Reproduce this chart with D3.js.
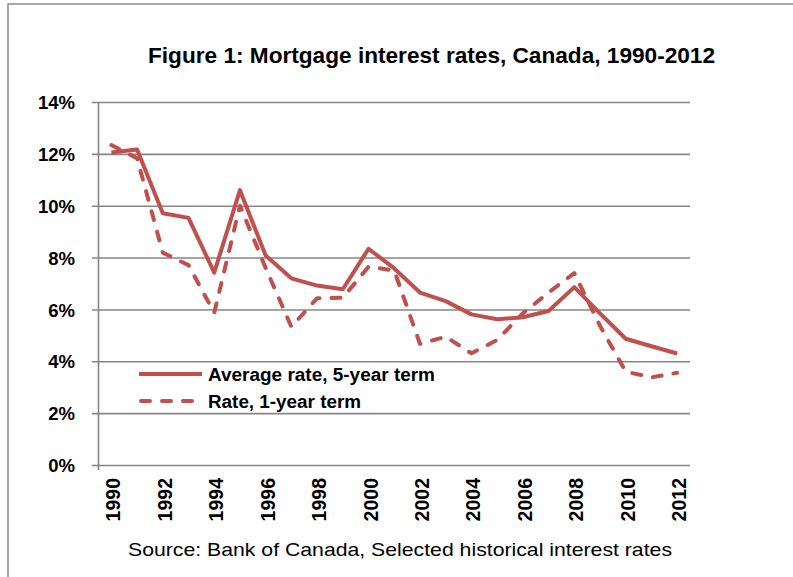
<!DOCTYPE html>
<html><head><meta charset="utf-8">
<script src="https://cdn.jsdelivr.net/npm/d3@7"></script>
<style>html,body{margin:0;padding:0;background:#fff;}svg{display:block;}</style>
</head><body>
<svg id="chart" width="793" height="577"></svg>
<script>
const years = ["1990","1991","1992","1993","1994","1995","1996","1997","1998","1999","2000","2001","2002","2003","2004","2005","2006","2007","2008","2009","2010","2011","2012"];
const yearLabels = ["1990","1992","1994","1996","1998","2000","2002","2004","2006","2008","2010","2012"];
const fiveYear = [12.05,12.17,9.71,9.53,7.42,10.6,8.08,7.2,6.92,6.78,8.34,7.58,6.65,6.32,5.81,5.62,5.70,5.94,6.86,5.85,4.87,4.58,4.30];
const oneYear = [12.34,11.83,8.19,7.71,5.87,10.0,7.6,5.33,6.43,6.45,7.65,7.5,4.67,4.95,4.31,4.82,5.85,6.65,7.40,5.37,3.60,3.38,3.56];
const yTicks = [0,2,4,6,8,10,12,14];
const seriesNames = ["Average rate, 5-year term","Rate, 1-year term"];
const title = "Figure 1: Mortgage interest rates, Canada, 1990-2012";
const source = "Source: Bank of Canada,  Selected historical  interest rates";

const svg = d3.select("#chart");
const font = "'Liberation Sans', Arial, sans-serif";
const red = "#C0504D", grid = "#868686";

const x = d3.scaleBand().domain(years).range([98.5, 690]).padding(0);
const y = d3.scaleLinear().domain([0, 14]).range([465, 102]);

// frame
svg.append("path").attr("d", "M8,577 L8,4 L793,4").attr("fill","none").attr("stroke","#8a8a8a").attr("stroke-width",1.5);

// title
svg.append("text").attr("x",148).attr("y",63).attr("font-family",font).attr("font-weight","bold")
  .attr("font-size",22.5).attr("textLength",567).attr("lengthAdjust","spacingAndGlyphs").attr("fill","#000").text(title);

// gridlines + y axis
const yAxis = d3.axisLeft(y).tickValues(yTicks).tickFormat(d => d + "%").tickSize(-(690 - 92)).tickPadding(0);
const gy = svg.append("g").attr("transform","translate(92,0)").call(yAxis);
gy.select(".domain").remove();
gy.selectAll(".tick line").attr("stroke",grid).attr("stroke-width",1.6);
gy.selectAll(".tick text").attr("x",-17).attr("font-family",font).attr("font-weight","bold").attr("font-size",18.5).attr("fill","#000").attr("dy","0.36em");

svg.append("line").attr("x1",98.5).attr("x2",98.5).attr("y1",102).attr("y2",470).attr("stroke",grid).attr("stroke-width",1.6);

// x labels
const xAxis = d3.axisBottom(x).tickValues(yearLabels).tickSize(0).tickPadding(0);
const gx = svg.append("g").attr("transform","translate(0,465)").call(xAxis);
gx.select(".domain").remove();
gx.selectAll(".tick text").attr("transform","rotate(-90)").attr("text-anchor","end").attr("x",-13).attr("y",0).attr("dy","0.46em")
  .attr("font-family",font).attr("font-weight","bold").attr("font-size",19.5).attr("fill","#000");

// lines
const line = d3.line().x((d,i) => x(years[i]) + x.bandwidth()/2).y(d => y(d));
svg.append("path").datum(oneYear).attr("d",line).attr("fill","none").attr("stroke",red).attr("stroke-width",4)
  .attr("stroke-dasharray","9,12").attr("stroke-linecap","round").attr("stroke-linejoin","round");
svg.append("path").datum(fiveYear).attr("d",line).attr("fill","none").attr("stroke",red).attr("stroke-width",4)
  .attr("stroke-linejoin","round");

// legend
const lg = svg.append("g");
lg.append("line").attr("x1",139).attr("x2",202).attr("y1",374).attr("y2",374).attr("stroke",red).attr("stroke-width",4);
lg.append("line").attr("x1",141).attr("x2",200).attr("y1",401).attr("y2",401).attr("stroke",red).attr("stroke-width",4)
  .attr("stroke-dasharray","9,12").attr("stroke-linecap","round");
lg.append("text").attr("x",208).attr("y",381).attr("font-family",font).attr("font-weight","bold").attr("font-size",18)
  .attr("textLength",227).attr("lengthAdjust","spacingAndGlyphs").text(seriesNames[0]);
lg.append("text").attr("x",208).attr("y",408).attr("font-family",font).attr("font-weight","bold").attr("font-size",18)
  .attr("textLength",153).attr("lengthAdjust","spacingAndGlyphs").text(seriesNames[1]);

// source
svg.append("text").attr("x",128).attr("y",556).attr("font-family",font).attr("font-size",19)
  .attr("textLength",544).attr("lengthAdjust","spacingAndGlyphs").attr("fill","#000").text(source);
</script>
</body></html>
